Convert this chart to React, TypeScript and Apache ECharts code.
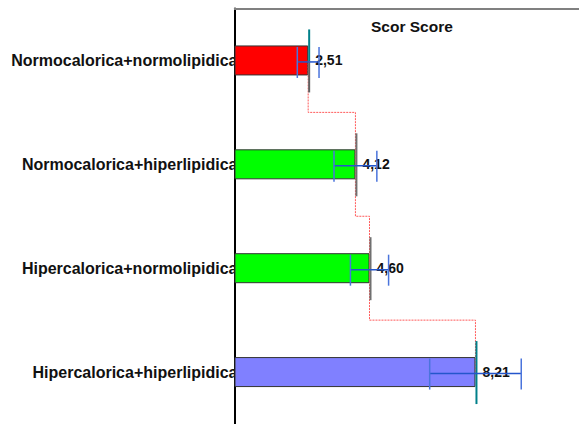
import React, { useEffect, useRef } from "react";
import * as echarts from "echarts";

// Groups and their mean scores
const categories = [
  "Normocalorica+normolipidica",
  "Normocalorica+hiperlipidica",
  "Hipercalorica+normolipidica",
  "Hipercalorica+hiperlipidica",
];
const scores = [2.51, 4.12, 4.6, 8.21];
// Half-width of each error bar
const errors = [0.37, 0.73, 0.65, 1.56];
const title = "Scor Score";

const barColors = ["#ff0000", "#00ff00", "#00ff00", "#8080ff"];
const markerTop = ["#00808a", "#707070", "#707070", "#00808a"];
const markerBottom = ["#606060", "#707070", "#707070", "#00808a"];

const FONT = "'Liberation Sans', Arial, sans-serif";

export default function App() {
  const ref = useRef<HTMLDivElement>(null);

  useEffect(() => {
    if (!ref.current) return;
    const chart = echarts.init(ref.current, null, { renderer: "svg" });

    chart.setOption({
      animation: false,
      backgroundColor: "#ffffff",
      title: {
        text: title,
        left: 371,
        top: 18,
        padding: 0,
        textStyle: { fontFamily: FONT, fontWeight: "bold", fontSize: 15.5, color: "#111" },
      },
      graphic: [
        {
          // top frame line continues to the right edge
          type: "line",
          shape: { x1: 234, y1: 9, x2: 579, y2: 9 },
          style: { stroke: "#808080", lineWidth: 2 },
          z: 1,
        },
      ],
      grid: { left: 234.5, top: 8.5, width: 293.5, height: 416.8, containLabel: false },
      xAxis: {
        type: "value",
        min: 0,
        max: 10,
        axisLine: { show: false },
        axisTick: { show: false },
        axisLabel: { show: false },
        splitLine: { show: false },
      },
      yAxis: {
        type: "category",
        inverse: true,
        data: categories,
        axisLine: { show: true, lineStyle: { color: "#000", width: 2 } },
        axisTick: { show: false },
        axisLabel: {
          margin: -3,
          fontFamily: FONT,
          fontWeight: "bold",
          fontSize: 16,
          color: "#111",
        },
      },
      series: [
        {
          type: "bar",
          data: scores.map((v, i) => ({ value: v, itemStyle: { color: barColors[i] } })),
          barWidth: 30,
          itemStyle: { borderColor: "#333", borderWidth: 1 },
          label: {
            show: true,
            position: "right",
            distance: 7,
            fontFamily: FONT,
            fontWeight: "bold",
            fontSize: 14,
            color: "#111",
            formatter: (p: any) => p.value.toFixed(2).replace(".", ","),
          },
          z: 2,
        },
        {
          // dotted connector between bar ends
          type: "line",
          step: "middle",
          data: scores.map((v, i) => [v, categories[i]]),
          symbol: "none",
          lineStyle: { color: "#ff5a5a", width: 1, type: [2, 1] },
          z: 3,
        },
        {
          // vertical marker at each mean
          type: "custom",
          data: scores.map((v, i) => [i, v]),
          encode: { x: 1, y: 0 },
          renderItem: (params: any, api: any) => {
            const p = api.coord([api.value(1), api.value(0)]);
            const i = params.dataIndex;
            return {
              type: "group",
              children: [
                {
                  type: "line",
                  shape: { x1: p[0] + 1, y1: p[1] - 31, x2: p[0] + 1, y2: p[1] + 1 },
                  style: { stroke: markerTop[i], lineWidth: 2 },
                },
                {
                  type: "line",
                  shape: { x1: p[0] + 1, y1: p[1] + 1, x2: p[0] + 1, y2: p[1] + 32 },
                  style: { stroke: markerBottom[i], lineWidth: 2 },
                },
              ],
            };
          },
          z: 4,
        },
        {
          // error bars
          type: "custom",
          data: scores.map((v, i) => [i, v - errors[i], v + errors[i]]),
          encode: { x: [1, 2], y: 0 },
          renderItem: (params: any, api: any) => {
            const lo = api.coord([api.value(1), api.value(0)]);
            const hi = api.coord([api.value(2), api.value(0)]);
            const y = lo[1] + 1.5;
            const stroke = "#2456cc";
            const tick = "#4a74dc";
            return {
              type: "group",
              children: [
                {
                  type: "line",
                  shape: { x1: lo[0], y1: y, x2: hi[0], y2: y },
                  style: { stroke, lineWidth: 1.5 },
                },
                {
                  type: "line",
                  shape: { x1: lo[0], y1: y - 15, x2: lo[0], y2: y + 16 },
                  style: { stroke: tick, lineWidth: 1.5 },
                },
                {
                  type: "line",
                  shape: { x1: hi[0], y1: y - 15, x2: hi[0], y2: y + 16 },
                  style: { stroke: tick, lineWidth: 1.5 },
                },
              ],
            };
          },
          z: 5,
        },
      ],
    });

    return () => chart.dispose();
  }, []);

  return (
    <div
      ref={ref}
      style={{ position: "fixed", left: 0, top: 0, width: 579, height: 424, background: "#fff" }}
    />
  );
}
